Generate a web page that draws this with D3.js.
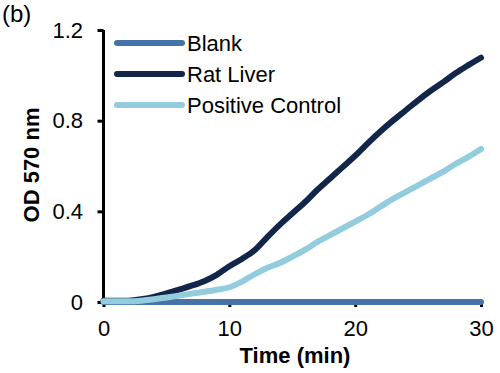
<!DOCTYPE html>
<html>
<head>
<meta charset="utf-8">
<script src="https://cdn.jsdelivr.net/npm/d3@7"></script>
<style>
  body { margin: 0; background: #fff; }
  svg { font-family: "Liberation Sans", Arial, sans-serif; }
</style>
</head>
<body>
<svg id="chart" width="500" height="373"></svg>
<script>
// time points (min)
var times = d3.range(0, 31, 1);
var blank = times.map(function() { return 0; });
var ratLiver = [0.005, 0.005, 0.006, 0.012, 0.022, 0.038, 0.055, 0.072, 0.092, 0.12,
	0.158, 0.19, 0.228, 0.285, 0.34, 0.39, 0.44, 0.495, 0.545, 0.595,
	0.645, 0.7, 0.752, 0.8, 0.845, 0.89, 0.932, 0.97, 1.01, 1.045, 1.078];
var positiveControl = [0.003, 0.003, 0.003, 0.006, 0.012, 0.02, 0.028, 0.037, 0.045, 0.054,
	0.065, 0.09, 0.122, 0.15, 0.172, 0.2, 0.23, 0.265, 0.295, 0.325,
	0.355, 0.385, 0.42, 0.455, 0.485, 0.515, 0.545, 0.575, 0.61, 0.64, 0.675];
var seriesNames = ["Blank", "Rat Liver", "Positive Control"];
var seriesColors = ["#4573a7", "#12264a", "#93cddd"];
var xTicks = [0, 10, 20, 30];
var yTicks = [0, 0.4, 0.8, 1.2];

var fs = "22px";
var svg = d3.select("#chart");
var x = d3.scaleLinear().domain([0, 30]).range([103.5, 481]);
var y = d3.scaleLinear().domain([0, 1.2]).range([302, 30]);

// axes
var xAxis = svg.append("g").attr("transform", "translate(0,302)")
	.call(d3.axisBottom(x).tickValues(xTicks).tickSize(5).tickPadding(13).tickFormat(d3.format("d")));
var yAxis = svg.append("g").attr("transform", "translate(103.5,0)")
	.call(d3.axisLeft(y).tickValues(yTicks).tickSize(6).tickPadding(14.5).tickFormat(function(d) { return d === 0 ? "0" : d3.format(".1f")(d); }));
[xAxis, yAxis].forEach(function(a) {
	a.select(".domain").attr("stroke", "#000").attr("stroke-width", 3);
	a.selectAll(".tick line").attr("stroke", "#000").attr("stroke-width", 3);
	a.selectAll(".tick text").attr("fill", "#000").style("font-size", fs).style("font-family", "Liberation Sans, Arial, sans-serif");
});
xAxis.select(".domain").attr("d", "M103.5,0H481");
yAxis.select(".domain").attr("d", "M0,302V30");

// lines
var line = d3.line()
	.x(function(d, i) { return x(times[i]); })
	.y(function(d) { return y(d); })
	.curve(d3.curveMonotoneX);
var allSeries = [blank, ratLiver, positiveControl];
svg.append("g").selectAll("path")
	.data(allSeries)
	.enter().append("path")
	.attr("d", line)
	.attr("fill", "none")
	.attr("stroke", function(d, i) { return seriesColors[i]; })
	.attr("stroke-width", 6)
	.attr("stroke-linecap", "round")
	.attr("stroke-linejoin", "round");

// legend
var legend = svg.append("g").selectAll("g")
	.data(seriesNames)
	.enter().append("g")
	.attr("transform", function(d, i) { return "translate(117," + (43 + i * 31) + ")"; });
legend.append("line")
	.attr("x1", 0).attr("x2", 65)
	.attr("stroke", function(d, i) { return seriesColors[i]; })
	.attr("stroke-width", 6)
	.attr("stroke-linecap", "round");
legend.append("text")
	.attr("x", 70).attr("y", 8)
	.style("font-size", fs)
	.text(function(d) { return d; });

// titles
svg.append("text")
	.attr("x", 295).attr("y", 363)
	.attr("text-anchor", "middle")
	.style("font-size", fs).style("font-weight", "bold")
	.text("Time (min)");
svg.append("text")
	.attr("transform", "translate(39,165) rotate(-90)")
	.attr("text-anchor", "middle")
	.style("font-size", fs).style("font-weight", "bold")
	.text("OD 570 nm");
svg.append("text")
	.attr("x", 2).attr("y", 22)
	.style("font-size", "24px")
	.text("(b)");
</script>
</body>
</html>
